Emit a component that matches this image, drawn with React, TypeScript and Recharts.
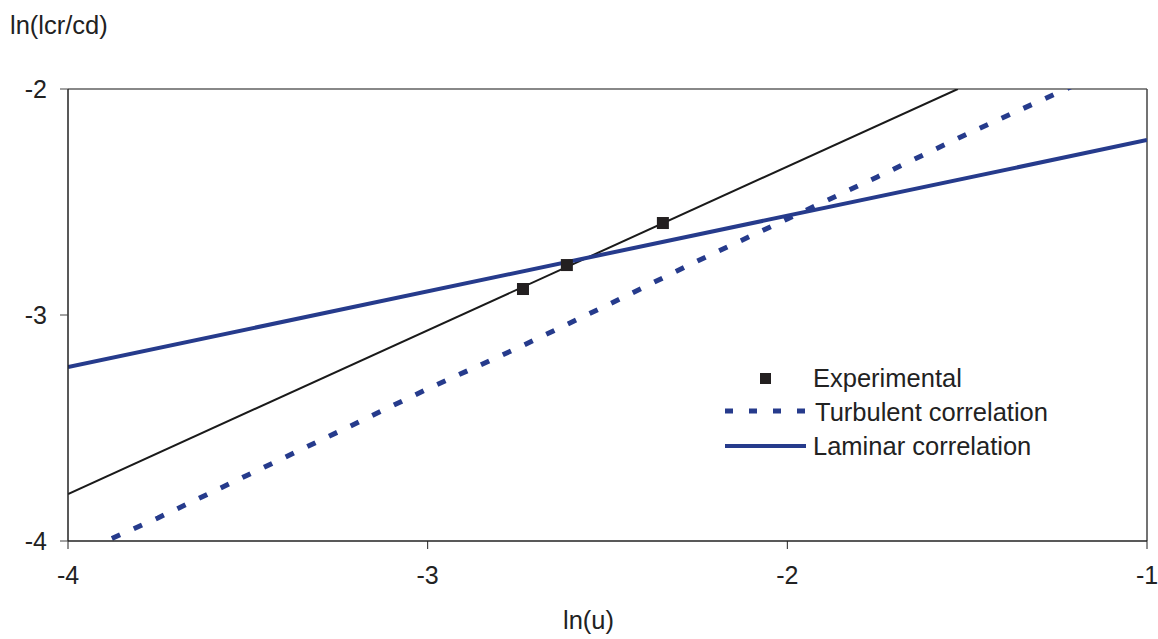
import React from 'react'
import {
  ComposedChart,
  Line,
  Scatter,
  XAxis,
  YAxis,
  ReferenceLine,
  Legend,
} from 'recharts'

// ln(u) vs ln(lcr/cd)
const EXP_U = [-2.735, -2.613, -2.346]
const EXP_LCR = [-2.885, -2.779, -2.593]

const FIT_U = [-4, -1.526]
const FIT_LCR = [-3.792, -2]

const TURB_U = [-4, -3.75, -3.5, -3.25, -3, -2.75, -2.5, -2.25, -2, -1.75, -1.5, -1.25, -1.17]
const TURB_LCR = [-4.075, -3.898, -3.708, -3.518, -3.327, -3.146, -2.956, -2.761, -2.575, -2.389, -2.199, -2.018, -1.96]

const LAM_U = [-4, -1]
const LAM_LCR = [-3.23, -2.226]

const X_TICKS = [-4, -3, -2, -1]
const Y_TICKS = [-4, -3, -2]

const BLUE = '#263B8C'
const FONT = '"Liberation Sans", Arial, sans-serif'
const TEXT_SIZE = 25.5

const toPoints = (xs: number[], ys: number[]) => xs.map((x, i) => ({ x, y: ys[i] }))

const expData = toPoints(EXP_U, EXP_LCR)
const fitData = toPoints(FIT_U, FIT_LCR)
const turbData = toPoints(TURB_U, TURB_LCR)
const lamData = toPoints(LAM_U, LAM_LCR)

function SquareDot(props: { cx?: number; cy?: number }) {
  const { cx, cy } = props
  if (cx == null || cy == null) return null
  return <rect x={cx - 6} y={cy - 6} width={12} height={12} fill="#231F20" />
}

function LegendBox() {
  const text = { fontFamily: FONT, fontSize: TEXT_SIZE, fill: '#222' }
  return (
    <svg width={360} height={110}>
      <rect x={40} y={13} width={11} height={11} fill="#231F20" />
      <text x={93} y={18} dominantBaseline="central" style={text}>Experimental</text>
      <line x1={5} y1={51} x2={86} y2={51} stroke={BLUE} strokeWidth={5} strokeDasharray="8 16" />
      <text x={95} y={52} dominantBaseline="central" style={text}>Turbulent correlation</text>
      <line x1={5} y1={86} x2={86} y2={86} stroke={BLUE} strokeWidth={4} />
      <text x={93} y={86} dominantBaseline="central" style={text}>Laminar correlation</text>
    </svg>
  )
}

export default function App() {
  const tick = { fontSize: 25, fill: '#222', fontFamily: FONT }
  return (
    <div style={{ position: 'absolute', left: 0, top: 0, width: 1158, height: 639, background: '#fff' }}>
      <div
        style={{ position: 'absolute', left: 10, top: 11, fontFamily: FONT, fontSize: TEXT_SIZE, color: '#222' }}
      >
        ln(lcr/cd)
      </div>
      <div
        style={{ position: 'absolute', left: 563, top: 606, fontFamily: FONT, fontSize: TEXT_SIZE, color: '#222' }}
      >
        ln(u)
      </div>
      <ComposedChart
        width={1158}
        height={639}
        margin={{ top: 89, right: 11, bottom: 58, left: 8 }}
      >
        <XAxis
          type="number"
          dataKey="x"
          domain={[-4, -1]}
          ticks={X_TICKS}
          allowDataOverflow
          height={40}
          tickSize={8}
          tickMargin={17}
          tick={tick}
          axisLine={{ stroke: '#222', strokeWidth: 1.5 }}
          tickLine={{ stroke: '#222' }}
        />
        <YAxis
          type="number"
          dataKey="y"
          domain={[-4, -2]}
          ticks={Y_TICKS}
          allowDataOverflow
          width={60}
          tickSize={8}
          tickMargin={13}
          tick={tick}
          axisLine={{ stroke: '#222', strokeWidth: 1.5 }}
          tickLine={{ stroke: '#444' }}
        />
        <ReferenceLine y={-2} stroke="#888" strokeWidth={2} />
        <ReferenceLine x={-1} stroke="#444" strokeWidth={1.5} />
        <Line
          data={fitData}
          dataKey="y"
          type="linear"
          stroke="#1A1A1A"
          strokeWidth={2}
          dot={false}
          isAnimationActive={false}
        />
        <Line
          data={turbData}
          dataKey="y"
          type="linear"
          stroke={BLUE}
          strokeWidth={5}
          strokeDasharray="9 15"
          dot={false}
          isAnimationActive={false}
        />
        <Line
          data={lamData}
          dataKey="y"
          type="linear"
          stroke={BLUE}
          strokeWidth={4}
          dot={false}
          isAnimationActive={false}
        />
        <Scatter data={expData} dataKey="y" shape={<SquareDot />} isAnimationActive={false} />
        <Legend
          layout="horizontal"
          verticalAlign="middle"
          align="center"
          wrapperStyle={{ left: 720, top: 360, width: 360, height: 110 }}
          content={() => <LegendBox />}
        />
      </ComposedChart>
    </div>
  )
}
